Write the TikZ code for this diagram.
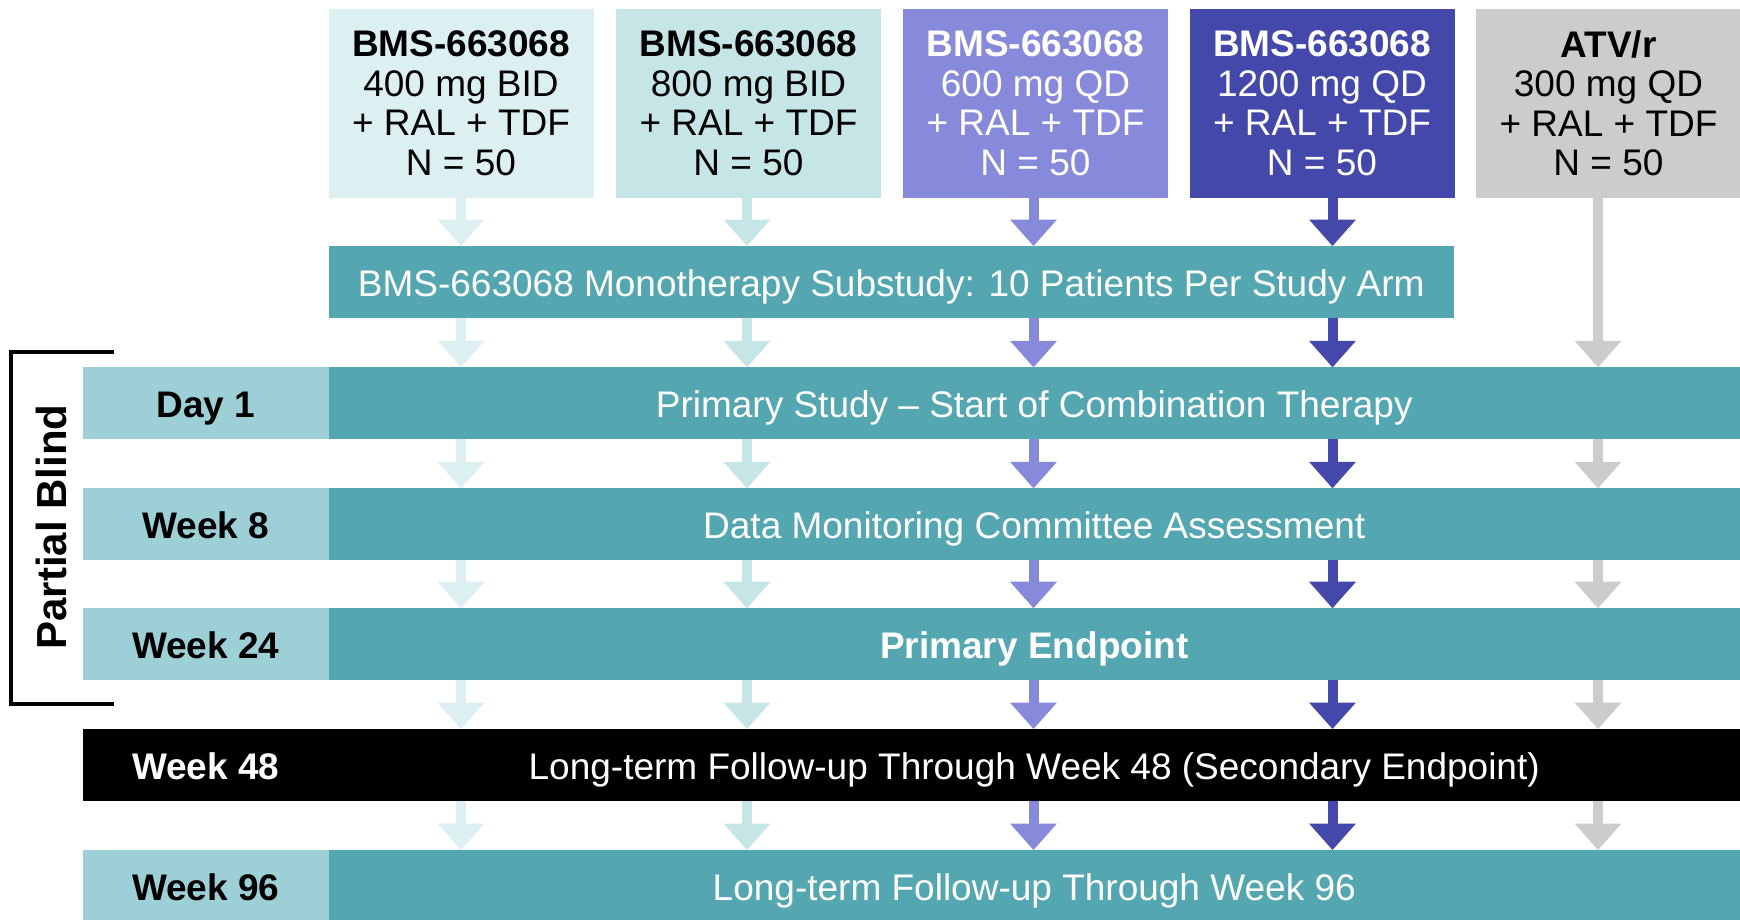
\documentclass[tikz,border=0pt]{standalone}
\usepackage{fontspec}
\setmainfont{Liberation Sans}
\usetikzlibrary{arrows.meta}
\definecolor{armA}{HTML}{DCEFF1}
\definecolor{armB}{HTML}{C6E5E7}
\definecolor{armC}{HTML}{878ADA}
\definecolor{armD}{HTML}{4448AA}
\definecolor{armE}{HTML}{CCCCCC}
\definecolor{tealbar}{HTML}{54A7B1}
\definecolor{teallab}{HTML}{9DD0D6}

\begin{document}
\begin{tikzpicture}[x=1pt,y=-1pt,
  every node/.style={inner sep=0pt,outer sep=0pt,font=\fontsize{37}{39.6}\selectfont},
  arm/.style={anchor=north west,minimum width=265pt,minimum height=188.5pt,align=center},
  bar/.style={anchor=north west,fill=tealbar,text=white,minimum height=72pt,
    text height=28.5pt,text depth=0pt},
  lab/.style={anchor=north west,fill=teallab,minimum width=245.3pt,minimum height=72pt,
    text height=28.5pt,text depth=0pt,font=\fontsize{37}{39.6}\selectfont\bfseries},
  flow/.style={line width=10pt,-{Triangle[width=47pt,length=26.5pt,line width=0pt]}},
]
\useasboundingbox (0,0) rectangle (1740,919);
\clip (0,0) rectangle (1740,919);

% study arms
\node[arm,fill=armA] (b1) at (328.5,9) {\textbf{BMS-663068}\\400 mg BID\\+ RAL + TDF\\N = 50};
\node[arm,fill=armB] (b2) at (616,9) {\textbf{BMS-663068}\\800 mg BID\\+ RAL + TDF\\N = 50};
\node[arm,fill=armC,text=white] (b3) at (903,9) {\textbf{BMS-663068}\\600 mg QD\\+ RAL + TDF\\N = 50};
\node[arm,fill=armD,text=white] (b4) at (1189.5,9) {\textbf{BMS-663068}\\1200 mg QD\\+ RAL + TDF\\N = 50};
\node[arm,fill=armE] (b5) at (1476,9) {\textbf{ATV/r}\\300 mg QD\\+ RAL + TDF\\N = 50};

% monotherapy substudy
\node[bar,minimum width=1125.5pt] (sub) at (328.5,246) {BMS-663068 Monotherapy Substudy: 10 Patients Per Study Arm};

% timeline rows
\node[lab] (l1) at (83.2,367.3) {Day 1};
\node[bar,minimum width=1411.5pt] (m1) at (328.5,367.3) {Primary Study -- Start of Combination Therapy};
\node[lab] (l2) at (83.2,488.3) {Week 8};
\node[bar,minimum width=1411.5pt] (m2) at (328.5,488.3) {Data Monitoring Committee Assessment};
\node[lab] (l3) at (83.2,608.2) {Week 24};
\node[bar,minimum width=1411.5pt,font=\fontsize{37}{39.6}\selectfont\bfseries] (m3) at (328.5,608.2) {Primary Endpoint};
\node[lab,fill=black,text=white] (l4) at (83.2,729) {Week 48};
\node[bar,fill=black,minimum width=1411.5pt] (m4) at (328.5,729) {Long-term Follow-up Through Week 48 (Secondary Endpoint)};
\node[lab] (l5) at (83.2,850) {Week 96};
\node[bar,minimum width=1411.5pt] (m5) at (328.5,850) {Long-term Follow-up Through Week 96};

% arrow columns
\coordinate (c1) at (461,0);
\coordinate (c2) at (747,0);
\coordinate (c3) at (1033.5,0);
\coordinate (c4) at (1332.5,0);
\coordinate (c5) at (1598,0);

\foreach \k/\col in {1/armA,2/armB,3/armC,4/armD}{
  \draw[flow,draw=\col,fill=\col] (b\k.south -| c\k) -- (sub.north -| c\k);
  \draw[flow,draw=\col,fill=\col] (sub.south -| c\k) -- (m1.north -| c\k);
}
\draw[flow,draw=armE,fill=armE] (b5.south -| c5) -- (m1.north -| c5);

\foreach \k/\col in {1/armA,2/armB,3/armC,4/armD,5/armE}{
  \foreach \i/\j in {1/2,2/3,3/4,4/5}{
    \draw[flow,draw=\col,fill=\col] (m\i.south -| c\k) -- (m\j.north -| c\k);
  }
}

% partial blind bracket
\coordinate (bt) at (114,351.7);
\coordinate (bb) at (114,704);
\draw[line width=4pt] (bt) -- (bt -| 10.6,0) -- (bb -| 10.6,0) -- (bb);
\node[rotate=90,font=\fontsize{42}{42}\selectfont\bfseries] (pb) at (51,527) {Partial Blind};
\end{tikzpicture}
\end{document}
